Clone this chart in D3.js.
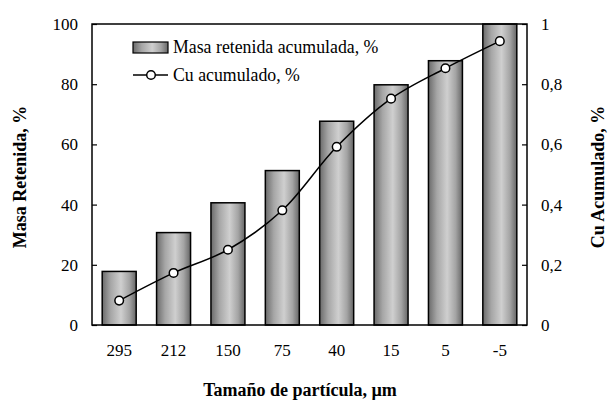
<!DOCTYPE html>
<html><head><meta charset="utf-8">
<script src="https://cdn.jsdelivr.net/npm/d3@7"></script>
<style>body{margin:0;background:#fff}svg{display:block}</style>
</head><body><svg id="c" width="608" height="401"></svg>
<script>
const categories = ["295","212","150","75","40","15","5","-5"];
const masaRetenida = [17.8, 30.7, 40.6, 51.3, 67.7, 79.8, 87.8, 100];
const cuAcumulado = [0.081, 0.173, 0.25, 0.381, 0.592, 0.752, 0.853, 0.943];
const leftTicks = [0,20,40,60,80,100];
const rightTicks = [0,0.2,0.4,0.6,0.8,1];

const FONT = "Liberation Serif";
const svg = d3.select("#c");
const L=92, R=527, T=24, B=325;
const x = d3.scaleBand().domain(categories).range([L,R]).paddingInner(0.375).paddingOuter(0.1875);
const y = d3.scaleLinear().domain([0,100]).range([B,T]);
const y2 = d3.scaleLinear().domain([0,1]).range([B,T]);

const defs = svg.append("defs");
const g = defs.append("linearGradient").attr("id","bar").attr("x1","0").attr("x2","1").attr("y1","0").attr("y2","0");
[[0,"#6a6a6a"],[0.25,"#a6a6a6"],[0.55,"#cfcfcf"],[0.8,"#a4a4a4"],[1,"#666666"]].forEach(([o,c])=>g.append("stop").attr("offset",o).attr("stop-color",c));

// bars
svg.append("g").selectAll("rect").data(categories).join("rect")
  .attr("x",d=>x(d)).attr("width",x.bandwidth())
  .attr("y",(d,i)=>y(masaRetenida[i])).attr("height",(d,i)=>B-y(masaRetenida[i]))
  .attr("fill","url(#bar)").attr("stroke","#000").attr("stroke-width",1.5);

// axes
const fmt = d=> d===0?"0":d===1?"1":String(d).replace(".",",");
const ax = svg.append("g").attr("transform",`translate(${L},0)`)
  .call(d3.axisLeft(y).tickValues(leftTicks).tickSize(-5).tickPadding(14).tickFormat(d=>d));
const ax2 = svg.append("g").attr("transform",`translate(${R},0)`)
  .call(d3.axisRight(y2).tickValues(rightTicks).tickSize(-5).tickPadding(14).tickFormat(fmt));
const axb = svg.append("g").attr("transform",`translate(0,${B})`)
  .call(d3.axisBottom(x).tickSize(0).tickPadding(19));
[ax,ax2,axb].forEach(a=>{a.attr("font-family",FONT).attr("font-size",17);a.selectAll("path").remove();a.selectAll("line").attr("stroke","#000").attr("stroke-width",1.2);a.selectAll("text").attr("fill","#000");});

// frame
svg.append("rect").attr("x",L).attr("y",T).attr("width",R-L).attr("height",B-T)
  .attr("fill","none").attr("stroke","#000").attr("stroke-width",1.5);

// line
const pts = categories.map((c,i)=>[x(c)+x.bandwidth()/2, y2(cuAcumulado[i])]);
svg.append("path").attr("d",d3.line().curve(d3.curveCatmullRom.alpha(0.5))(pts))
  .attr("fill","none").attr("stroke","#000").attr("stroke-width",1.5);
svg.append("g").selectAll("circle").data(pts).join("circle")
  .attr("cx",d=>d[0]).attr("cy",d=>d[1]).attr("r",4.3)
  .attr("fill","#fff").attr("stroke","#000").attr("stroke-width",1.5);

// legend
svg.append("rect").attr("x",133).attr("y",42).attr("width",35).attr("height",11)
  .attr("fill","url(#bar)").attr("stroke","#000").attr("stroke-width",1.2);
svg.append("text").attr("x",173).attr("y",53).attr("font-family",FONT).attr("font-size",17.8).text("Masa retenida acumulada, %");
svg.append("line").attr("x1",133).attr("x2",168).attr("y1",75).attr("y2",75).attr("stroke","#000").attr("stroke-width",1.5);
svg.append("circle").attr("cx",151).attr("cy",75).attr("r",4.3).attr("fill","#fff").attr("stroke","#000").attr("stroke-width",1.5);
svg.append("text").attr("x",173).attr("y",81).attr("font-family",FONT).attr("font-size",17.8).text("Cu acumulado, %");

// titles
svg.append("text").attr("x",300).attr("y",396).attr("text-anchor","middle")
  .attr("font-family",FONT).attr("font-size",18).attr("font-weight","bold").text("Tamaño de partícula, µm");
svg.append("text").attr("transform",`translate(26,177) rotate(-90)`).attr("text-anchor","middle")
  .attr("font-family",FONT).attr("font-size",18).attr("font-weight","bold").text("Masa Retenida, %");
svg.append("text").attr("transform",`translate(604,177) rotate(-90)`).attr("text-anchor","middle")
  .attr("font-family",FONT).attr("font-size",18).attr("font-weight","bold").text("Cu Acumulado, %");
</script></body></html>
